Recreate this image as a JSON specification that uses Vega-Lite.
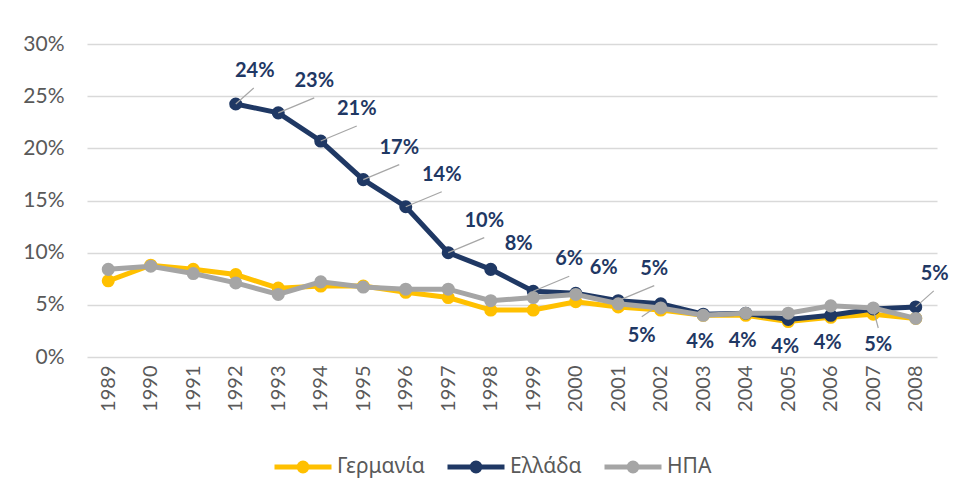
{
  "$schema": "https://vega.github.io/schema/vega-lite/v6.json",
  "width": 850,
  "height": 313,
  "padding": {"left": 22, "top": 33, "right": 17, "bottom": 10},
  "background": "white",
  "config": {
    "view": {"stroke": null},
    "font": "Lato, 'Noto Sans', sans-serif",
    "axis": {"labelFont": "Lato, 'Noto Sans', sans-serif"}
  },
  "data": {
    "values": [
      {"year": "1989", "series": "Γερμανία", "value": 0.073},
      {"year": "1990", "series": "Γερμανία", "value": 0.088},
      {"year": "1991", "series": "Γερμανία", "value": 0.084},
      {"year": "1992", "series": "Γερμανία", "value": 0.079},
      {"year": "1993", "series": "Γερμανία", "value": 0.066},
      {"year": "1994", "series": "Γερμανία", "value": 0.068},
      {"year": "1995", "series": "Γερμανία", "value": 0.068},
      {"year": "1996", "series": "Γερμανία", "value": 0.062},
      {"year": "1997", "series": "Γερμανία", "value": 0.057},
      {"year": "1998", "series": "Γερμανία", "value": 0.045},
      {"year": "1999", "series": "Γερμανία", "value": 0.045},
      {"year": "2000", "series": "Γερμανία", "value": 0.053},
      {"year": "2001", "series": "Γερμανία", "value": 0.048},
      {"year": "2002", "series": "Γερμανία", "value": 0.045},
      {"year": "2003", "series": "Γερμανία", "value": 0.040},
      {"year": "2004", "series": "Γερμανία", "value": 0.040},
      {"year": "2005", "series": "Γερμανία", "value": 0.034},
      {"year": "2006", "series": "Γερμανία", "value": 0.038},
      {"year": "2007", "series": "Γερμανία", "value": 0.041},
      {"year": "2008", "series": "Γερμανία", "value": 0.037},
      {"year": "1992", "series": "Ελλάδα", "value": 0.2425},
      {"year": "1993", "series": "Ελλάδα", "value": 0.234},
      {"year": "1994", "series": "Ελλάδα", "value": 0.207},
      {"year": "1995", "series": "Ελλάδα", "value": 0.170},
      {"year": "1996", "series": "Ελλάδα", "value": 0.144},
      {"year": "1997", "series": "Ελλάδα", "value": 0.100},
      {"year": "1998", "series": "Ελλάδα", "value": 0.084},
      {"year": "1999", "series": "Ελλάδα", "value": 0.063},
      {"year": "2000", "series": "Ελλάδα", "value": 0.061},
      {"year": "2001", "series": "Ελλάδα", "value": 0.054},
      {"year": "2002", "series": "Ελλάδα", "value": 0.051},
      {"year": "2003", "series": "Ελλάδα", "value": 0.041},
      {"year": "2004", "series": "Ελλάδα", "value": 0.042},
      {"year": "2005", "series": "Ελλάδα", "value": 0.036},
      {"year": "2006", "series": "Ελλάδα", "value": 0.040},
      {"year": "2007", "series": "Ελλάδα", "value": 0.046},
      {"year": "2008", "series": "Ελλάδα", "value": 0.048},
      {"year": "1989", "series": "ΗΠΑ", "value": 0.084},
      {"year": "1990", "series": "ΗΠΑ", "value": 0.087},
      {"year": "1991", "series": "ΗΠΑ", "value": 0.080},
      {"year": "1992", "series": "ΗΠΑ", "value": 0.071},
      {"year": "1993", "series": "ΗΠΑ", "value": 0.060},
      {"year": "1994", "series": "ΗΠΑ", "value": 0.072},
      {"year": "1995", "series": "ΗΠΑ", "value": 0.067},
      {"year": "1996", "series": "ΗΠΑ", "value": 0.065},
      {"year": "1997", "series": "ΗΠΑ", "value": 0.065},
      {"year": "1998", "series": "ΗΠΑ", "value": 0.054},
      {"year": "1999", "series": "ΗΠΑ", "value": 0.057},
      {"year": "2000", "series": "ΗΠΑ", "value": 0.060},
      {"year": "2001", "series": "ΗΠΑ", "value": 0.051},
      {"year": "2002", "series": "ΗΠΑ", "value": 0.047},
      {"year": "2003", "series": "ΗΠΑ", "value": 0.040},
      {"year": "2004", "series": "ΗΠΑ", "value": 0.042},
      {"year": "2005", "series": "ΗΠΑ", "value": 0.042},
      {"year": "2006", "series": "ΗΠΑ", "value": 0.049},
      {"year": "2007", "series": "ΗΠΑ", "value": 0.047},
      {"year": "2008", "series": "ΗΠΑ", "value": 0.037}
    ]
  },
  "encoding": {
    "x": {
      "field": "year",
      "type": "ordinal",
      "scale": {"type": "point", "padding": 0.5},
      "axis": {
        "title": null,
        "labelAngle": -90,
        "labelFontSize": 20,
        "labelColor": "#595959",
        "labelPadding": 8,
        "ticks": false,
        "domain": false,
        "grid": false
      }
    },
    "y": {
      "field": "value",
      "type": "quantitative",
      "scale": {"domain": [0, 0.3], "nice": false},
      "axis": {
        "title": null,
        "values": [0, 0.05, 0.1, 0.15, 0.2, 0.25, 0.3],
        "format": ".0%",
        "labelFontSize": 21,
        "labelColor": "#595959",
        "labelPadding": 23,
        "ticks": false,
        "domain": false,
        "gridColor": "#D9D9D9",
        "gridWidth": 1.5
      }
    }
  },
  "layer": [
    {
      "transform": [{"filter": "datum.series === 'Γερμανία'"}],
      "mark": {"type": "line", "strokeWidth": 5, "point": {"filled": true, "size": 170, "opacity": 1}},
      "encoding": {
        "color": {
          "field": "series",
          "type": "nominal",
          "scale": {"domain": ["Γερμανία", "Ελλάδα", "ΗΠΑ"], "range": ["#FFC000", "#1F3864", "#A5A5A5"]},
          "legend": {
            "title": null,
            "orient": "none",
            "legendX": 185,
            "legendY": 392,
            "direction": "horizontal",
            "labelFontSize": 21,
            "labelColor": "#595959",
            "labelFont": "'Noto Sans', sans-serif",
            "symbolType": "M -1 0 L 1 0 M 0.14 0 A 0.14 0.14 0 1 1 -0.14 0 A 0.14 0.14 0 1 1 0.14 0 Z",
            "symbolSize": 3249,
            "symbolStrokeWidth": 5,
            "columnPadding": 12,
            "labelOffset": 3,
            "encode": {
              "symbols": {
                "update": {
                  "fill": {"scale": "color", "field": "value"},
                  "stroke": {"scale": "color", "field": "value"},
                  "opacity": {"value": 1}
                }
              }
            }
          }
        }
      }
    },
    {
      "transform": [{"filter": "datum.series === 'Ελλάδα'"}],
      "mark": {"type": "line", "strokeWidth": 5, "point": {"filled": true, "size": 170, "opacity": 1}},
      "encoding": {"color": {"field": "series", "type": "nominal"}}
    },
    {
      "transform": [{"filter": "datum.series === 'ΗΠΑ'"}],
      "mark": {"type": "line", "strokeWidth": 5, "point": {"filled": true, "size": 170, "opacity": 1}},
      "encoding": {"color": {"field": "series", "type": "nominal"}}
    },
    {
      "transform": [{"filter": "datum.series === 'Ελλάδα' && (datum.year === '1992' || datum.year === '2008')"}],
      "mark": {"type": "rule", "color": "#A6A6A6", "strokeWidth": 1.2, "x2Offset": 18, "y2Offset": -16},
      "encoding": {"x2": {"field": "year"}, "y2": {"field": "value"}}
    },
    {
      "transform": [{"filter": "datum.series === 'Ελλάδα' && indexof(['1993','1994','1995','1996','1997','1999','2001'], datum.year) >= 0"}],
      "mark": {"type": "rule", "color": "#A6A6A6", "strokeWidth": 1.2, "x2Offset": 36, "y2Offset": -15},
      "encoding": {"x2": {"field": "year"}, "y2": {"field": "value"}}
    },
    {
      "transform": [{"filter": "datum.series === 'Ελλάδα' && datum.year === '2002'"}],
      "mark": {"type": "rule", "color": "#A6A6A6", "strokeWidth": 1.2, "x2Offset": -19, "y2Offset": 13},
      "encoding": {"x2": {"field": "year"}, "y2": {"field": "value"}}
    },
    {
      "transform": [{"filter": "datum.series === 'Ελλάδα' && datum.year === '2007'"}],
      "mark": {"type": "rule", "color": "#A6A6A6", "strokeWidth": 1.2, "x2Offset": 5, "y2Offset": 19},
      "encoding": {"x2": {"field": "year"}, "y2": {"field": "value"}}
    },
    {
      "transform": [{"filter": "datum.series === 'Ελλάδα' && (datum.year === '1992' || datum.year === '2008')"}],
      "mark": {"type": "text", "fontWeight": "bold", "fontSize": 20, "color": "#1F3864", "dx": 19, "dy": -33},
      "encoding": {"text": {"field": "value", "type": "quantitative", "format": ".0%"}}
    },
    {
      "transform": [{"filter": "datum.series === 'Ελλάδα' && indexof(['1993','1994','1995','1996','1997','1999','2001'], datum.year) >= 0"}],
      "mark": {"type": "text", "fontWeight": "bold", "fontSize": 20, "color": "#1F3864", "dx": 36, "dy": -32},
      "encoding": {"text": {"field": "value", "type": "quantitative", "format": ".0%"}}
    },
    {
      "transform": [{"filter": "datum.series === 'Ελλάδα' && (datum.year === '1998' || datum.year === '2000')"}],
      "mark": {"type": "text", "fontWeight": "bold", "fontSize": 20, "color": "#1F3864", "dx": 28, "dy": -25},
      "encoding": {"text": {"field": "value", "type": "quantitative", "format": ".0%"}}
    },
    {
      "transform": [{"filter": "datum.series === 'Ελλάδα' && datum.year === '2002'"}],
      "mark": {"type": "text", "fontWeight": "bold", "fontSize": 20, "color": "#1F3864", "dx": -19, "dy": 32},
      "encoding": {"text": {"field": "value", "type": "quantitative", "format": ".0%"}}
    },
    {
      "transform": [{"filter": "datum.series === 'Ελλάδα' && indexof(['2003','2004','2005','2006'], datum.year) >= 0"}],
      "mark": {"type": "text", "fontWeight": "bold", "fontSize": 20, "color": "#1F3864", "dx": -3, "dy": 28},
      "encoding": {"text": {"field": "value", "type": "quantitative", "format": ".0%"}}
    },
    {
      "transform": [{"filter": "datum.series === 'Ελλάδα' && datum.year === '2007'"}],
      "mark": {"type": "text", "fontWeight": "bold", "fontSize": 20, "color": "#1F3864", "dx": 5, "dy": 36},
      "encoding": {"text": {"field": "value", "type": "quantitative", "format": ".0%"}}
    }
  ]
}
